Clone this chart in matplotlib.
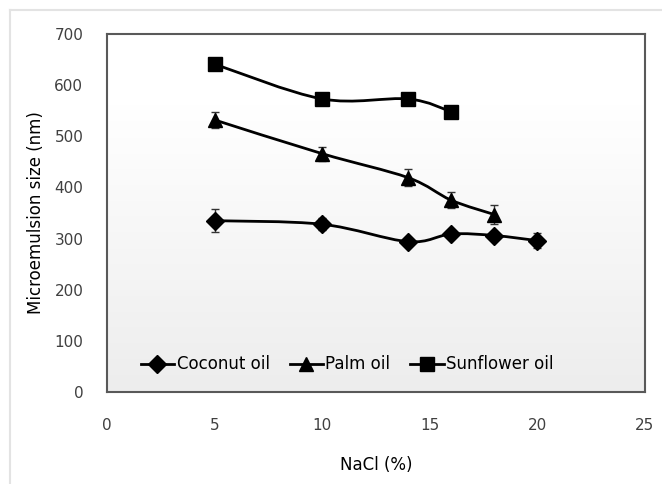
import numpy as np
import matplotlib.pyplot as plt
from matplotlib.path import Path
from matplotlib.patches import PathPatch
from matplotlib.lines import Line2D
from matplotlib.colors import LinearSegmentedColormap

plt.rcParams['font.family'] = ['DejaVu Sans']

# Data
nacl_coconut = [5, 10, 14, 16, 18, 20]
size_coconut = [335, 328, 294, 309, 306, 296]
err_coconut = [22, 12, 6, 7, 7, 14]

nacl_palm = [5, 10, 14, 16, 18]
size_palm = [532, 466, 419, 375, 347]
err_palm = [15, 14, 17, 16, 18]

nacl_sun = [5, 10, 14, 16]
size_sun = [641, 573, 573, 548]
err_sun = [5, 6, 6, 10]

series = [
    ('Coconut oil', nacl_coconut, size_coconut, err_coconut, 'D', 9.5),
    ('Palm oil', nacl_palm, size_palm, err_palm, '^', 10.5),
    ('Sunflower oil', nacl_sun, size_sun, err_sun, 's', 9.5),
]


def smooth_path(x, y, t=1 / 6):
    """Excel-like smoothed line: cubic Bezier through the points."""
    pts = np.column_stack([x, y]).astype(float)
    n = len(pts)
    verts = [pts[0]]
    codes = [Path.MOVETO]
    for i in range(n - 1):
        p0 = pts[i - 1] if i > 0 else pts[i]
        p1, p2 = pts[i], pts[i + 1]
        p3 = pts[i + 2] if i + 2 < n else pts[i + 1]
        c1 = p1 + (p2 - p0) * t
        c2 = p2 - (p3 - p1) * t
        verts += [c1, c2, p2]
        codes += [Path.CURVE4] * 3
    return Path(verts, codes)


fig = plt.figure(figsize=(6.62, 4.84), dpi=100)
ax = fig.add_axes([0.1616, 0.19, 0.8127, 0.7398])

# outer chart frame (top / left only visible)
fig.add_artist(Line2D([10 / 662, 1], [1 - 10 / 484] * 2, transform=fig.transFigure,
                      color='#e3e3e3', lw=1.5))
fig.add_artist(Line2D([10 / 662] * 2, [0, 1 - 10 / 484], transform=fig.transFigure,
                      color='#e3e3e3', lw=1.5))

# gradient background in plot area
grad = np.linspace(0.0, 1.0, 256).reshape(-1, 1)
grad = np.clip(grad * 1.25, 0, 1)
bg = LinearSegmentedColormap.from_list('bg', ['#ededed', '#ffffff'])
ax.imshow(grad, extent=[0, 1, 0, 1], transform=ax.transAxes, aspect='auto',
          cmap=bg, vmin=0, vmax=1, origin='lower', zorder=0)

handles = []
for name, x, y, e, m, ms in series:
    ax.add_patch(PathPatch(smooth_path(x, y), facecolor='none', edgecolor='black',
                           lw=2, zorder=2))
    ax.errorbar(x, y, yerr=e, fmt='none', ecolor='#333333', elinewidth=1,
                capsize=3, capthick=1, zorder=3)
    ax.plot(x, y, linestyle='none', marker=m, markersize=ms, color='black', zorder=4)
    handles.append(Line2D([], [], color='black', lw=2, marker=m, markersize=ms,
                          label=name))

ax.set_xlim(0, 25)
ax.set_ylim(0, 700)
ax.set_xticks([0, 5, 10, 15, 20, 25])
ax.set_yticks(range(0, 701, 100))
ax.tick_params(length=0, labelsize=11, colors='#404040')
ax.tick_params(axis='y', pad=17)
ax.tick_params(axis='x', pad=19)
for s in ax.spines.values():
    s.set_color('#595959')
    s.set_linewidth(1.5)

ax.set_xlabel('NaCl (%)', fontsize=12, labelpad=16)
ax.set_ylabel('Microemulsion size (nm)', fontsize=12, labelpad=7)

ax.legend(handles=handles, loc='lower left', bbox_to_anchor=(0.035, 0.01),
          ncol=3, frameon=False, fontsize=12, handlelength=2.0,
          handletextpad=0.15, columnspacing=1.2)

fig.savefig('out.png', dpi=100)
